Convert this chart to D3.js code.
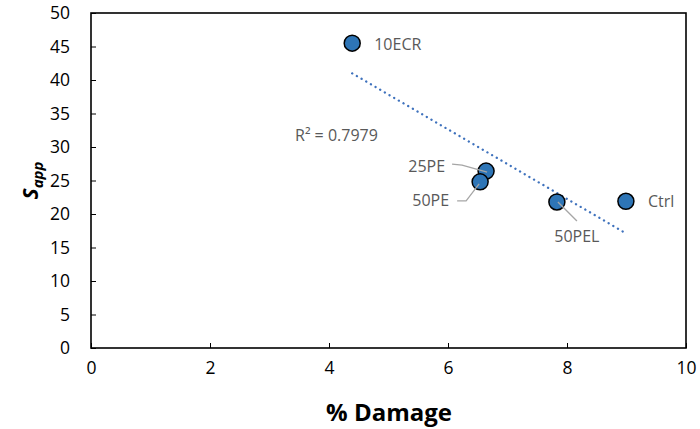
<!DOCTYPE html>
<html>
<head>
<meta charset="utf-8">
<script src="https://cdn.jsdelivr.net/npm/d3@7"></script>
<style>
  html, body { margin: 0; padding: 0; background: #fff; }
  svg { display: block; font-family: "Open Sans", "Liberation Sans", sans-serif; }
</style>
</head>
<body>
<svg id="chart" width="700" height="429"></svg>
<script>
// Samples: apparent S versus % damage
const samples = ["10ECR", "25PE", "50PE", "50PEL", "Ctrl"];
const damage = [4.39, 6.64, 6.54, 7.83, 8.99];
const sApp = [45.5, 26.4, 24.8, 21.8, 21.9];
const xTicks = [0, 2, 4, 6, 8, 10];
const yTicks = [0, 5, 10, 15, 20, 25, 30, 35, 40, 45, 50];
const r2Label = "R² = 0.7979";

const svg = d3.select("#chart");
const m = { left: 91, right: 686, top: 13, bottom: 348 };

const x = d3.scaleLinear().domain([0, 10]).range([m.left, m.right]);
const y = d3.scaleLinear().domain([0, 50]).range([m.bottom, m.top]);

// plot frame
svg.append("rect")
  .attr("x", m.left).attr("y", m.top)
  .attr("width", m.right - m.left).attr("height", m.bottom - m.top)
  .attr("fill", "none").attr("stroke", "#000").attr("stroke-width", 1.6);

// axes with inward ticks
const xAxis = svg.append("g").attr("transform", `translate(0,${m.bottom})`)
  .call(d3.axisBottom(x).tickValues(xTicks).tickSizeInner(-5).tickSizeOuter(0).tickPadding(14));
const yAxis = svg.append("g").attr("transform", `translate(${m.left},0)`)
  .call(d3.axisLeft(y).tickValues(yTicks).tickSizeInner(-5).tickSizeOuter(0).tickPadding(21));
[xAxis, yAxis].forEach(g => {
  g.select(".domain").remove();
  g.selectAll(".tick line").attr("stroke", "#000").attr("stroke-width", 1);
  g.selectAll(".tick text").attr("fill", "#000").style("font-size", "17.5px")
    .style("font-family", "'Open Sans', sans-serif");
});

// axis titles
svg.append("text")
  .attr("x", 389).attr("y", 421)
  .attr("text-anchor", "middle")
  .style("font-size", "24px").style("font-weight", "bold")
  .text("% Damage");

const yt = svg.append("text")
  .attr("transform", `translate(38,${(m.top + m.bottom) / 2}) rotate(-90)`)
  .attr("text-anchor", "middle")
  .style("font-size", "21px").style("font-weight", "bold").style("font-style", "italic");
yt.append("tspan").text("S");
yt.append("tspan").attr("dy", 5).style("font-size", "15px").text("app");

// least-squares trendline
const n = damage.length;
const mx = d3.mean(damage), my = d3.mean(sApp);
let sxy = 0, sxx = 0;
for (let i = 0; i < n; i++) {
  sxy += (damage[i] - mx) * (sApp[i] - my);
  sxx += (damage[i] - mx) ** 2;
}
const slope = sxy / sxx, icpt = my - slope * mx;
const x0 = d3.min(damage), x1 = d3.max(damage);
svg.append("line")
  .attr("x1", x(x0)).attr("y1", y(icpt + slope * x0))
  .attr("x2", x(x1)).attr("y2", y(icpt + slope * x1))
  .attr("stroke", "#3F72BD").attr("stroke-width", 2.3)
  .attr("stroke-dasharray", "0.1 5.3").attr("stroke-linecap", "round");

svg.append("text")
  .attr("x", 295).attr("y", 141)
  .attr("fill", "#595959").style("font-size", "16px")
  .text(r2Label);

// label placement (offsets from each point, px) and leader lines
const labelCfg = {
  "10ECR": { dx: 22, dy: 7, anchor: "start" },
  "25PE":  { dx: -41, dy: 1, anchor: "end", leader: [[-34, -7], [-24, -6], [1, 1]] },
  "50PE":  { dx: -31, dy: 24, anchor: "end", leader: [[-23, 19], [-14, 19], [-1, 2]] },
  "50PEL": { dx: 20, dy: 40, anchor: "middle", leader: [[1, 0], [20, 19]] },
  "Ctrl":  { dx: 22, dy: 6, anchor: "start" }
};

const leaderPath = (d, i) => d3.line()(labelCfg[d].leader.map(p => [x(damage[i]) + p[0], y(sApp[i]) + p[1]]));

// markers
svg.append("g").selectAll("circle")
  .data(samples)
  .join("circle")
  .attr("cx", (d, i) => x(damage[i]))
  .attr("cy", (d, i) => y(sApp[i]))
  .attr("r", 8)
  .attr("fill", "#2E75B6")
  .attr("stroke", "#000").attr("stroke-width", 1.5);

// leader lines drawn over the markers
const lg = svg.append("g");
samples.forEach((s, i) => {
  if (labelCfg[s].leader) {
    lg.append("path")
      .attr("d", leaderPath(s, i))
      .attr("fill", "none").attr("stroke", "#A6A6A6").attr("stroke-width", 1.3);
  }
});

svg.append("g").selectAll("text")
  .data(samples)
  .join("text")
  .attr("x", (d, i) => x(damage[i]) + labelCfg[d].dx)
  .attr("y", (d, i) => y(sApp[i]) + labelCfg[d].dy)
  .attr("text-anchor", d => labelCfg[d].anchor)
  .attr("fill", "#595959")
  .style("font-size", "16px")
  .text(d => d);
</script>
</body>
</html>
